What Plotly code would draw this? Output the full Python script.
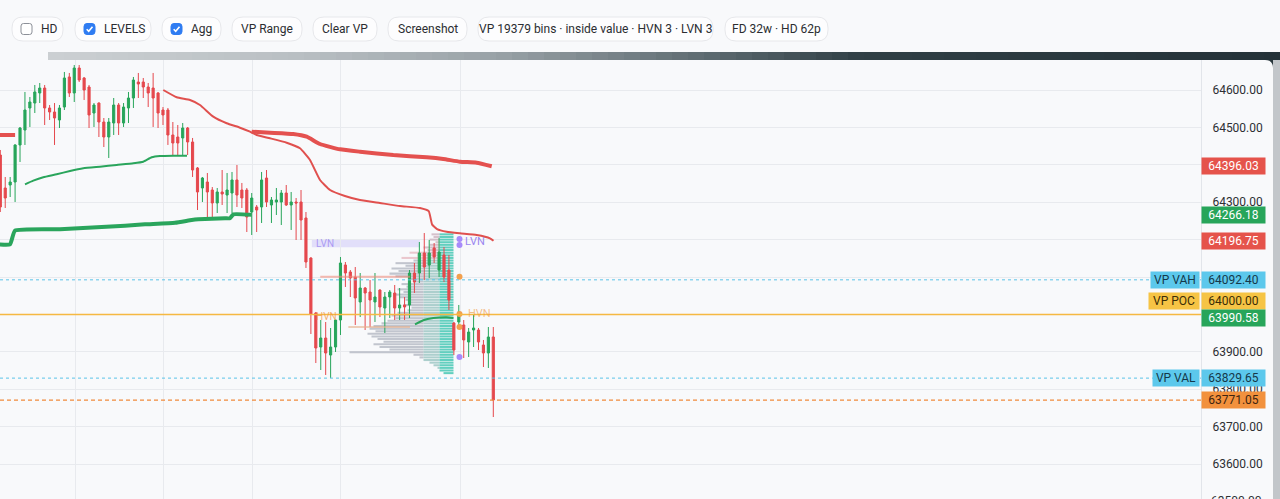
import plotly.graph_objects as go

W, H = 1280, 499
FONT = "Roboto, 'Noto Sans', sans-serif"

# ---------------- candles (bar index = position) ----------------
opens = [64426.2, 64338.0, 64346.0, 64354.0, 64453.0, 64493.0, 64551.9, 64565.2, 64592.0, 64605.3,
         64551.9, 64541.2, 64519.8, 64554.5, 64634.8, 64592.0, 64658.8, 64632.1, 64608.0, 64538.5,
         64565.2, 64514.4, 64474.3, 64511.8, 64559.9, 64511.8, 64551.9, 64578.6, 64621.4, 64621.4,
         64608.0, 64605.3, 64592.0, 64546.5, 64546.5, 64479.7, 64474.3, 64471.7, 64498.4, 64461.0,
         64391.5, 64338.0, 64354.0, 64332.6, 64297.9, 64327.3, 64319.2, 64324.6, 64359.4, 64332.6,
         64332.6, 64273.8, 64287.2, 64287.2, 64364.7, 64292.5, 64300.5, 64300.5, 64324.6, 64292.5,
         64300.5, 64300.5, 64257.8, 64150.8, 64003.8, 63912.8, 63936.9, 63891.4, 63912.8, 63985.0,
         64132.1, 64113.4, 64100.0, 64033.2, 64070.6, 64059.9, 64033.2, 64065.2, 64017.1, 64046.5,
         64057.2, 64017.1, 64025.2, 64025.2, 64110.7, 64110.7, 64164.2, 64132.1, 64177.6, 64118.7,
         64158.8, 64118.7, 63977.0, 63979.7, 63971.7, 63926.2, 63958.3, 63958.3, 63918.2, 63896.8,
         63939.6]
highs = [64439.6, 64367.4, 64367.4, 64455.0, 64501.1, 64594.7, 64581.3, 64613.4, 64618.7, 64613.4,
         64559.9, 64565.2, 64559.9, 64648.2, 64645.5, 64666.8, 64666.8, 64634.8, 64613.4, 64565.2,
         64567.0, 64525.1, 64525.1, 64578.6, 64565.2, 64565.2, 64594.7, 64634.8, 64645.5, 64632.1,
         64618.7, 64645.5, 64594.7, 64554.5, 64551.9, 64514.4, 64506.4, 64511.8, 64501.1, 64471.7,
         64394.1, 64367.4, 64378.1, 64340.6, 64338.0, 64386.1, 64378.1, 64380.8, 64399.5, 64351.4,
         64338.0, 64324.6, 64292.5, 64380.8, 64386.1, 64313.9, 64338.0, 64332.6, 64346.0, 64327.3,
         64311.2, 64332.6, 64273.8, 64153.0, 64006.5, 63985.0, 63979.7, 63963.6, 63986.0, 64153.5,
         64140.1, 64118.7, 64126.7, 64110.7, 64073.3, 64092.0, 64110.7, 64067.0, 64059.9, 64065.2,
         64078.6, 64070.6, 64046.5, 64118.7, 64137.4, 64193.6, 64217.6, 64198.9, 64190.9, 64204.3,
         64180.2, 64158.8, 63979.7, 64025.2, 63985.0, 63963.6, 63998.4, 63963.6, 63931.6, 63966.3,
         63966.3]
lows = [64273.8, 64284.5, 64313.9, 64300.5, 64407.5, 64453.0, 64501.1, 64538.5, 64565.2, 64506.4,
        64519.8, 64453.0, 64498.4, 64546.5, 64581.3, 64567.9, 64621.4, 64573.3, 64498.4, 64501.1,
        64474.3, 64447.6, 64418.2, 64479.7, 64479.7, 64501.1, 64511.8, 64551.9, 64578.6, 64578.6,
        64554.5, 64501.1, 64498.4, 64506.4, 64453.0, 64426.2, 64426.2, 64426.2, 64426.2, 64367.4,
        64279.1, 64300.5, 64257.8, 64257.8, 64271.1, 64292.5, 64271.1, 64271.1, 64287.2, 64284.5,
        64220.3, 64212.3, 64220.3, 64244.4, 64287.2, 64244.4, 64265.8, 64239.0, 64290.0, 64225.7,
        64198.9, 64198.9, 64124.1, 63947.6, 63870.0, 63851.3, 63838.0, 63830.0, 63899.5, 63944.9,
        64073.3, 64046.5, 63971.7, 63993.0, 63958.3, 63966.3, 63979.7, 63993.0, 63950.3, 63990.4,
        63985.0, 63985.0, 63985.0, 63990.4, 64057.2, 64084.0, 64092.0, 64097.3, 64137.4, 64100.0,
        64086.6, 64011.8, 63891.4, 63963.6, 63883.4, 63886.1, 63912.8, 63904.8, 63859.3, 63856.7,
        63725.6]
closes = [64287.2, 64311.2, 64354.0, 64453.0, 64498.4, 64546.5, 64567.9, 64594.7, 64605.3, 64551.9,
          64541.2, 64525.1, 64551.9, 64632.1, 64592.0, 64658.8, 64626.7, 64600.0, 64533.2, 64559.9,
          64514.4, 64474.3, 64514.4, 64559.9, 64511.8, 64554.5, 64578.6, 64626.7, 64616.0, 64608.0,
          64592.0, 64578.6, 64538.5, 64533.2, 64479.7, 64458.3, 64458.3, 64498.4, 64461.0, 64386.1,
          64327.3, 64364.7, 64327.3, 64297.9, 64327.3, 64321.9, 64332.6, 64359.4, 64319.2, 64311.2,
          64260.4, 64311.2, 64279.1, 64359.4, 64300.5, 64305.9, 64305.9, 64324.6, 64292.5, 64300.5,
          64297.9, 64252.4, 64140.1, 64001.1, 63910.2, 63936.9, 63896.8, 63912.8, 63985.0, 64137.4,
          64110.7, 64097.3, 64043.9, 64070.6, 64057.2, 64038.5, 64046.5, 64019.8, 64046.5, 64059.9,
          64017.1, 64025.2, 64019.8, 64110.7, 64086.6, 64164.2, 64126.7, 64164.2, 64153.5, 64166.9,
          64100.0, 64038.5, 63904.8, 64006.5, 63931.6, 63952.9, 63963.6, 63926.2, 63896.8, 63939.6,
          63771.05]
bar_idx = list(range(len(opens)))

# ---------------- indicator lines (x = bar index, y = price) ----------------
thin_red_x = [33.06, 35.78, 38.48, 40.5, 43.2, 45.92, 48.62, 50.65, 52.0, 54.7, 58.09, 60.79, 62.82,
              64.85, 66.88, 69.9, 72.96, 77.0, 81.07, 85.13, 86.9, 87.6, 88.6, 90.55, 93.25, 96.63,
              99.33, 100.04]
thin_red_y = [64600.0, 64580.5, 64573.3, 64559.9, 64528.6, 64511.0, 64499.2, 64488.5, 64479.7, 64470.9,
              64459.1, 64444.1, 64412.8, 64359.4, 64332.6, 64316.6, 64305.9, 64297.9, 64289.8, 64284.5,
              64276.0, 64240.0, 64228.3, 64221.1, 64216.8, 64212.3, 64203.5, 64196.75]
thick_red_left_x = [-0.3, 3.0]
thick_red_left_y = [64479.7, 64479.7]
thick_red_x = [50.99, 54.7, 59.43, 62.15, 64.85, 68.9, 72.96, 79.72, 86.49, 89.86, 93.25, 96.63, 99.68]
thick_red_y = [64488.5, 64485.8, 64482.4, 64475.1, 64455.6, 64441.4, 64435.0, 64426.2, 64420.1,
               64415.5, 64408.3, 64405.6, 64396.03]
thick_green_x = [-0.3, 1.97, 2.98, 12.11, 25.3, 29.35, 35.44, 38.82, 40.16, 45.58, 46.59, 47.26, 51.0]
thick_green_y = [64187.4, 64187.4, 64223.8, 64227.5, 64237.2, 64240.9, 64245.2, 64252.4, 64254.3,
                 64257.0, 64257.0, 64267.6, 64266.18]
thin_green_x = [5.01, 6.69, 8.72, 11.44, 14.14, 16.84, 20.22, 23.61, 26.98, 29.0, 30.71, 32.39, 35.09, 37.87]
thin_green_y = [64347.9, 64357.5, 64366.6, 64374.6, 64383.4, 64390.6, 64394.9, 64399.5, 64404.0,
                64408.3, 64420.1, 64423.5, 64424.3, 64424.3]
vp_green_x = [84.12, 85.8, 87.83, 90.55, 91.9]
vp_green_y = [63973.5, 63984.5, 63990.2, 63992.5, 63990.58]

# ---------------- levels ----------------
VAH, POC, VAL, LAST = 64092.40, 64000.00, 63829.65, 63771.05
hvn_levels = [64100.8, 64001.1, 63966.3]
lvn_levels = [64201.6, 64185.6, 63886.1]
lvn_zone = [64179.4, 64199.0]

# ---------------- volume profile (top bin price, step, volumes) ----------------
vp_top = 64214.0
vp_step = 7.0
vp_vol = [22, 20, 24, 18, 24, 30, 26, 44, 36, 52, 40, 58, 48, 62, 55, 64, 58, 45, 40, 52,
          47, 56, 50, 60, 54, 48, 44, 50, 42, 46, 56, 62, 58, 66, 72, 80, 84, 78, 86, 82,
          76, 70, 80, 74, 64, 104, 40, 34, 30, 24, 20, 16, 14, 10]

# ---------------- y tick labels ----------------
tick_prices = [63500 + 100 * k for k in range(12)]

# ---------------- toolbar ----------------
buttons = ["HD", "LEVELS", "Agg", "VP Range", "Clear VP", "Screenshot",
           "VP 19379 bins · inside value · HVN 3 · LVN 3", "FD 32w · HD 62p"]
button_check = [False, True, True, None, None, None, None, None]

# ================= layout geometry =================
PX_PER_BAR = 4.93
X0_PX = 0.3
PLOT_RIGHT = 1201
PLOT_TOP = 60
Y_PER_PX = 1 / 0.374  # price per pixel
Y_TOP = 64600 + (90 - PLOT_TOP) * Y_PER_PX
Y_BOT = 64600 - (H - 90) * Y_PER_PX
X_LO = (0 - X0_PX) / PX_PER_BAR
X_HI = (PLOT_RIGHT - X0_PX) / PX_PER_BAR
VP_ANCHOR = (453.5 - X0_PX) / PX_PER_BAR
MARK_X = (459.5 - X0_PX) / PX_PER_BAR

RED = "#e5484d"
GREEN = "#27a55a"


def px(x):
    return x / W


def py(y):
    return 1 - y / H


def price_to_py(p):
    return 90 + (64600 - p) / Y_PER_PX


def rrect(x0, y0, x1, y1, r):
    pts = (f"M {px(x0 + r)} {py(y0)} L {px(x1 - r)} {py(y0)} Q {px(x1)} {py(y0)} {px(x1)} {py(y0 + r)} "
           f"L {px(x1)} {py(y1 - r)} Q {px(x1)} {py(y1)} {px(x1 - r)} {py(y1)} "
           f"L {px(x0 + r)} {py(y1)} Q {px(x0)} {py(y1)} {px(x0)} {py(y1 - r)} "
           f"L {px(x0)} {py(y0 + r)} Q {px(x0)} {py(y0)} {px(x0 + r)} {py(y0)} Z")
    return pts


fig = go.Figure()

# candles
fig.add_trace(go.Candlestick(
    x=bar_idx, open=opens, high=highs, low=lows, close=closes,
    increasing=dict(line=dict(color=GREEN, width=1), fillcolor=GREEN),
    decreasing=dict(line=dict(color=RED, width=1), fillcolor=RED),
    whiskerwidth=0, showlegend=False, hoverinfo="skip"))


def line(x, y, color, width):
    fig.add_trace(go.Scatter(x=x, y=y, mode="lines",
                             line=dict(color=color, width=width, shape="spline", smoothing=0.4),
                             showlegend=False, hoverinfo="skip"))


line(thick_red_left_x, thick_red_left_y, "#e4514f", 4)
line(thick_red_x, thick_red_y, "#e4514f", 4)
line(thin_red_x, thin_red_y, "#e0504e", 2)
line(thick_green_x, thick_green_y, "#2aa55c", 4)
line(thin_green_x, thin_green_y, "#2aa55c", 2)

# LVN zone + HVN guide lines
fig.add_shape(type="rect", xref="x", yref="y", x0=63.2, x1=85.1, y0=lvn_zone[0], y1=lvn_zone[1],
              fillcolor="rgba(185,175,250,0.35)", line_width=0, layer="below")
fig.add_trace(go.Scatter(x=[64.9, 83.1], y=[hvn_levels[0]] * 2, mode="lines",
                         line=dict(color="rgba(240,140,125,0.6)", width=2), showlegend=False, hoverinfo="skip"))
fig.add_trace(go.Scatter(x=[70.6, 83.1], y=[hvn_levels[2]] * 2, mode="lines",
                         line=dict(color="rgba(230,175,140,0.6)", width=2), showlegend=False, hoverinfo="skip"))

# volume profile
vp_prices = [vp_top - i * vp_step for i in range(len(vp_vol))]
TEAL_PX, MID_PX = 14, 16
segs = {k: dict(y=[], x=[], base=[], c=[]) for k in ("g", "m", "t")}
for i, (p, v) in enumerate(zip(vp_prices, vp_vol)):
    t = min(v, TEAL_PX)
    m = min(max(v - TEAL_PX, 0), MID_PX)
    g = max(v - TEAL_PX - MID_PX, 0)
    top_zone = p > 64150
    for key, length, start, col in (
            ("t", t, t, "rgba(70,200,180,0.85)"),
            ("m", m, t + m, "rgba(200,170,182,0.7)" if top_zone else "rgba(140,190,185,0.7)"),
            ("g", g, v, "rgba(225,165,175,0.6)" if top_zone else "rgba(160,165,178,0.62)")):
        if length <= 0:
            continue
        segs[key]["y"].append(p)
        segs[key]["x"].append(length / PX_PER_BAR)
        segs[key]["base"].append(VP_ANCHOR - start / PX_PER_BAR)
        segs[key]["c"].append(col)
for key in ("g", "m", "t"):
    s = segs[key]
    fig.add_trace(go.Bar(orientation="h", y=s["y"], x=s["x"], base=s["base"], width=vp_step * 0.78,
                         marker=dict(color=s["c"], line=dict(width=0)), showlegend=False, hoverinfo="skip"))

line(vp_green_x, vp_green_y, "#2aa55c", 2)

# HVN / LVN markers
fig.add_trace(go.Scatter(x=[MARK_X] * len(hvn_levels), y=hvn_levels, mode="markers",
                         marker=dict(color="#f2a04e", size=6), showlegend=False, hoverinfo="skip"))
fig.add_trace(go.Scatter(x=[MARK_X] * len(lvn_levels), y=lvn_levels, mode="markers",
                         marker=dict(color="#a78bfa", size=6), showlegend=False, hoverinfo="skip"))

# level lines
fig.add_hline(y=VAH, line=dict(color="#5bc3e8", width=1, dash="dot"))
fig.add_hline(y=VAL, line=dict(color="#5bc3e8", width=1, dash="dot"))
fig.add_hline(y=POC, line=dict(color="#f5b942", width=1.5))
fig.add_hline(y=LAST, line=dict(color="#f08a3c", width=1.3, dash="4px,3px"))

# ---------------- frame shapes ----------------
shapes = []
shapes.append(dict(type="rect", xref="paper", yref="paper", x0=0, x1=1, y0=py(52), y1=1,
                   fillcolor="#ffffff", line_width=0, layer="below"))
shapes.append(dict(type="line", xref="paper", yref="paper", x0=0, x1=1, y0=py(5), y1=py(5),
                   line=dict(color="#ececee", width=1), layer="below"))
stops = [(0, (207, 211, 214)), (300, (185, 191, 195)), (500, (152, 161, 166)), (700, (95, 108, 114)),
         (860, (48, 63, 69)), (1280, (36, 50, 56))]


def grad(xp):
    for (a, ca), (b, cb) in zip(stops[:-1], stops[1:]):
        if a <= xp <= b:
            f = (xp - a) / (b - a)
            return "rgb(%d,%d,%d)" % tuple(round(ca[k] + (cb[k] - ca[k]) * f) for k in range(3))
    return "rgb(36,50,56)"


step = 16
for xs in range(0, W, step):
    shapes.append(dict(type="rect", xref="paper", yref="paper", x0=px(xs), x1=px(min(xs + step + 1, W)),
                       y0=py(60), y1=py(52), fillcolor=grad(xs + step / 2), line_width=0, layer="below"))
shapes.append(dict(type="rect", xref="paper", yref="paper", x0=px(1273), x1=1, y0=0, y1=py(60),
                   fillcolor="#c2c6ca", line_width=0, layer="below"))
shapes.append(dict(type="path", xref="paper", yref="paper",
                   path=f"M {px(1265)} {py(60)} Q {px(1273)} {py(60)} {px(1273)} {py(68)} L {px(1273)} {py(60)} Z",
                   fillcolor="rgb(40,54,60)", line_width=0, layer="below"))

# toolbar pills
pill_x = [(12, 63), (75, 151), (162, 221), (232, 302), (313, 377), (388, 467), (478, 713), (725, 828)]
annotations = []
TB_FONT = dict(family=FONT, size=12, color="#2b2d31")
for (x0, x1), label, chk in zip(pill_x, buttons, button_check):
    shapes.append(dict(type="path", xref="paper", yref="paper", path=rrect(x0, 17, x1, 41, 11),
                       fillcolor="#fdfdfe", line=dict(color="#e7e8eb", width=1), layer="below"))
    if chk is None:
        annotations.append(dict(xref="paper", yref="paper", x=px((x0 + x1) / 2), y=py(29), text=label,
                                showarrow=False, xanchor="center", yanchor="middle", font=TB_FONT))
    else:
        cx, cy = x0 + 14.5, 29
        if chk:
            shapes.append(dict(type="path", xref="paper", yref="paper",
                               path=rrect(cx - 5.5, cy - 5.5, cx + 5.5, cy + 5.5, 3),
                               fillcolor="#2f7cf2", line=dict(color="#2f7cf2", width=1), layer="below"))
            shapes.append(dict(type="path", xref="paper", yref="paper",
                               path=f"M {px(cx - 2.8)} {py(cy + 0.2)} L {px(cx - 0.8)} {py(cy + 2.3)} L {px(cx + 3)} {py(cy - 2.3)}",
                               line=dict(color="#ffffff", width=1.6), layer="below"))
        else:
            shapes.append(dict(type="path", xref="paper", yref="paper",
                               path=rrect(cx - 5.5, cy - 5.5, cx + 5.5, cy + 5.5, 2.5),
                               fillcolor="#ffffff", line=dict(color="#8c9098", width=1), layer="below"))
        annotations.append(dict(xref="paper", yref="paper", x=px(x0 + 27), y=py(29), text=label,
                                showarrow=False, xanchor="left", yanchor="middle", font=TB_FONT))

# ---------------- price tags ----------------
tag_levels = []


def tag(y, bg, fg, yshift=0):
    tag_levels.append(price_to_py(y) - yshift)
    annotations.append(dict(xref="paper", yref="y", x=px(PLOT_RIGHT), y=y, yshift=yshift, xanchor="left",
                            yanchor="middle", text=f"{y:.2f}", showarrow=False, bgcolor=bg, width=61, height=14,
                            borderpad=1, align="center", font=dict(family=FONT, size=12, color=fg)))


def side_tag(y, text, bg, fg, w, yshift=0):
    annotations.append(dict(xref="paper", yref="y", x=px(PLOT_RIGHT - 1), y=y, yshift=yshift, xanchor="right",
                            yanchor="middle", text=text, showarrow=False, bgcolor=bg, width=w, height=14,
                            borderpad=1, align="center", font=dict(family=FONT, size=12, color=fg)))


tag(thick_red_y[-1], "#e5534b", "#ffffff")
tag(thick_green_y[-1], "#27a55a", "#ffffff")
tag(thin_red_y[-1], "#e5534b", "#ffffff")
tag(VAH, "#5cc8ec", "#15384a")
side_tag(VAH, "VP VAH", "#5cc8ec", "#15384a", 46)
tag(POC, "#f6c445", "#3b2d06", yshift=13)
side_tag(POC, "VP POC", "#f6c445", "#3b2d06", 48, yshift=13)
tag(vp_green_y[-1], "#27a55a", "#ffffff")
tag(VAL, "#5cc8ec", "#15384a")
side_tag(VAL, "VP VAL", "#5cc8ec", "#15384a", 44)
tag(LAST, "#f2913d", "#3d2410")

# tick labels fully hidden behind a tag are left blank (as in the reference)
tick_text = []
for v in tick_prices:
    ty = price_to_py(v)
    hidden = any(abs(ty - ly) < 6.5 for ly in tag_levels)
    tick_text.append("" if hidden else f"{v:.2f}")

# partially visible bottom tick label
annotations.append(dict(xref="paper", yref="paper", x=px(1209), y=py(price_to_py(tick_prices[0])), xanchor="left",
                        yanchor="middle", text=f"{tick_prices[0]:.2f}", showarrow=False,
                        font=dict(family=FONT, size=12, color="#2d2f33")))
tick_text[0] = ""

# HVN / LVN texts
annotations += [
    dict(xref="x", yref="y", x=(325 - X0_PX) / PX_PER_BAR, y=sum(lvn_zone) / 2, text="LVN", showarrow=False,
         font=dict(family=FONT, size=10, color="rgba(150,130,240,0.75)")),
    dict(xref="x", yref="y", x=(326 - X0_PX) / PX_PER_BAR, y=POC - 6, text="HVN", showarrow=False,
         font=dict(family=FONT, size=10, color="rgba(240,150,60,0.75)")),
    dict(xref="x", yref="y", x=MARK_X + 0.8, y=lvn_levels[0] - 8, text="LVN", showarrow=False, xanchor="left",
         font=dict(family=FONT, size=11, color="#9b86f0")),
    dict(xref="x", yref="y", x=MARK_X + 1.4, y=hvn_levels[1], text="HVN", showarrow=False, xanchor="left",
         font=dict(family=FONT, size=11, color="rgba(240,150,60,0.6)")),
]

grid_x = [(p - X0_PX) / PX_PER_BAR for p in (75, 163, 252, 340, 460)]

fig.update_layout(
    width=W, height=H, margin=dict(l=0, r=0, t=0, b=0),
    paper_bgcolor="#f8f9fb", plot_bgcolor="#f8f9fb",
    barmode="overlay", boxgap=0.38, showlegend=False,
    shapes=shapes, annotations=annotations,
    xaxis=dict(domain=[0, px(PLOT_RIGHT)], range=[X_LO, X_HI], rangeslider=dict(visible=False),
               tickvals=grid_x, showticklabels=False, ticks="", showgrid=True, gridcolor="#e8eaee",
               gridwidth=1, zeroline=False, showline=False, fixedrange=True),
    yaxis=dict(domain=[0, py(PLOT_TOP)], range=[Y_BOT, Y_TOP], side="right", tickvals=tick_prices,
               ticktext=tick_text, showgrid=True, gridcolor="#e8eaee", gridwidth=1,
               zeroline=False, showline=True, linecolor="#e2e5ea", linewidth=1, ticks="",
               ticklabelstandoff=8, tickfont=dict(family=FONT, size=12, color="#2d2f33"), fixedrange=True),
    font=dict(family=FONT),
)

fig.write_html("out.html")
